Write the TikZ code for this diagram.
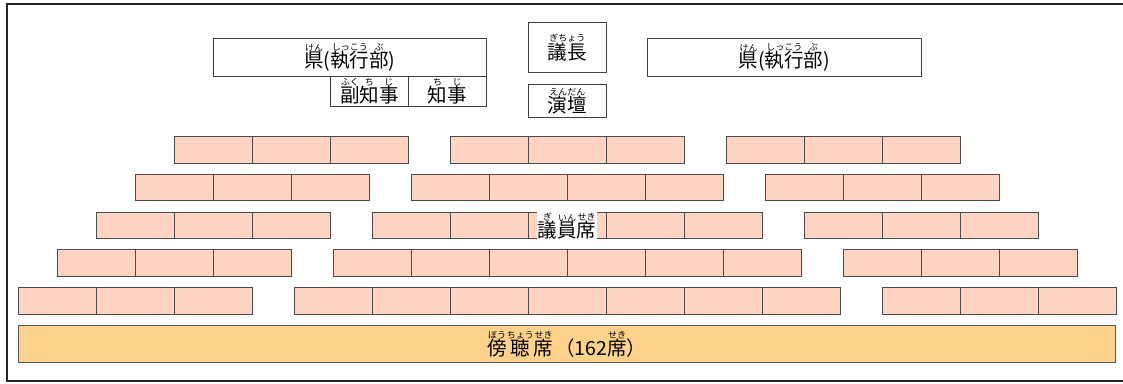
\documentclass[tikz,border=0pt]{standalone}
\usepackage{fontspec}
\setmainfont{Noto Sans CJK JP}
\definecolor{seatfill}{HTML}{FDD4C1}
\definecolor{galleryfill}{HTML}{FFD28C}
\newcommand\rbfont{\fontsize{9}{9}\selectfont}
% ruby: base text with its reading above
\newcommand\rb[2]{\leavevmode\vbox{\offinterlineskip\halign{\hfil##\hfil\cr\rbfont #2\cr\noalign{\kern.5pt}#1\cr}}}
\begin{document}
\begin{tikzpicture}
  [x=1pt,y=-1pt,
   every node/.style={inner sep=0pt,font=\fontsize{19.5}{22}\selectfont},
   seat/.style={draw=black!70,fill=seatfill,line width=.9pt,minimum width=78pt,minimum height=26.5pt,anchor=north west},
   box/.style={draw=black!75,fill=white,line width=.9pt,anchor=north west}]
\useasboundingbox (0,0) rectangle (1123,383);
\draw[line width=2.2pt,black!85] (1123,4) -| (7,381) -- (1123,381);
\node (exec1)[box,minimum width=273pt,minimum height=38pt] at (213,38) {\rb{県}{けん}(\rb{執行}{しっこう}\rb{部}{ぶ})};
\node (exec2)[box,minimum width=274pt,minimum height=38pt] at (647,38) {\rb{県}{けん}(\rb{執行}{しっこう}\rb{部}{ぶ})};
\node (vice)[box,minimum width=78pt,minimum height=30pt] at (330,76) {\rb{副}{ふく}\rb{知}{ち}\rb{事}{じ}};
\node (gov)[box,minimum width=78pt,minimum height=30pt] at (408,76) {\rb{知}{ち}\rb{事}{じ}};
\node (chair)[box,minimum width=78pt,minimum height=50pt] at (528,22) {\rb{議長}{ぎちょう}};
\node (podium)[box,minimum width=78pt,minimum height=33pt] at (528,84) {\rb{演壇}{えんだん}};
\foreach \r in {0,...,4} {
  \pgfmathsetmacro\y{136+37.75*\r}
  \pgfmathtruncatemacro\n{2+\r}
  \foreach \i in {0,1,2} {
    \node (l\r\i)[seat] at ({174-39*\r+78*\i},\y) {};
    \node (r\r\i)[seat] at ({726+39*\r+78*\i},\y) {};
  }
  \foreach \i in {0,...,\n}
    \node (m\r\i)[seat] at ({450-39*\r+78*\i},\y) {};
}
\node (seatlabel)[fill=white,inner sep=1pt] at (567,226) {\rb{議}{ぎ}\rb{員}{いん}\rb{席}{せき}};
\node (gallery)[draw=black!65,fill=galleryfill,line width=.9pt,minimum width=1097pt,minimum height=37pt,anchor=north west] at (18,325)
  {\rb{傍}{ぼう}\rb{聴}{ちょう}\rb{席}{せき}\kern2pt（162\rb{席}{せき}）};
\end{tikzpicture}
\end{document}
